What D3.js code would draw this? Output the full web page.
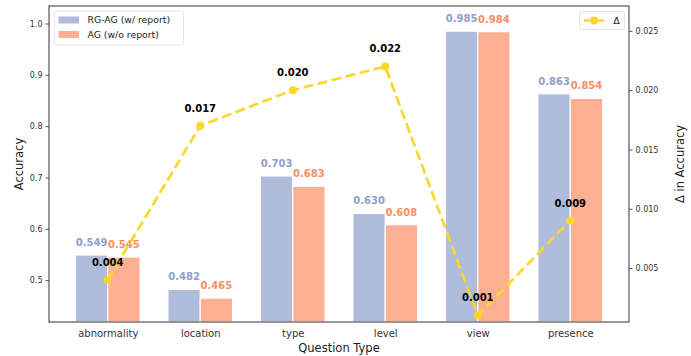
<!DOCTYPE html>
<html>
<head>
<meta charset="utf-8">
<script src="https://cdn.jsdelivr.net/npm/d3@7"></script>
<style>
  html, body { margin: 0; padding: 0; background: #fff; }
  svg { display: block; font-family: "DejaVu Sans", sans-serif; }
</style>
</head>
<body>
<svg id="chart" width="691" height="356"></svg>
<script>
// Accuracy per question type, with and without the generated report
const categories = ["abnormality", "location", "type", "level", "view", "presence"];
const rgAgValues = [0.549, 0.482, 0.703, 0.630, 0.985, 0.863];
const agValues   = [0.545, 0.465, 0.683, 0.608, 0.984, 0.854];
const deltaValues = [0.004, 0.017, 0.020, 0.022, 0.001, 0.009];
const leftTicks  = [0.5, 0.6, 0.7, 0.8, 0.9, 1.0];
const rightTicks = [0.005, 0.010, 0.015, 0.020, 0.025];

const blueFill = "#afbcdb", orangeFill = "#fdaf91";
const blueText = "#8da0cb", orangeText = "#fc8d62";
const gold = "#fcd62c";

const svg = d3.select("#chart");
const plot = { left: 49, right: 629, top: 6, bottom: 322 };
const barW = 0.35;

const x = d3.scaleLinear().domain([-0.635, 5.635]).range([plot.left, plot.right]);
const yL = d3.scaleLinear().domain([0.4185, 1.034]).range([plot.bottom, plot.top]);
const yR = d3.scaleLinear().domain([0.00045, 0.0271]).range([plot.bottom, plot.top]);

svg.append("defs").append("clipPath").attr("id", "plotClip")
  .append("rect").attr("x", plot.left).attr("y", plot.top)
  .attr("width", plot.right - plot.left).attr("height", plot.bottom - plot.top);

const marks = svg.append("g").attr("clip-path", "url(#plotClip)");

// grouped bars
const series = [
  { values: rgAgValues, offset: -barW / 2, fill: blueFill, text: blueText },
  { values: agValues,   offset:  barW / 2, fill: orangeFill, text: orangeText }
];
series.forEach(s => {
  marks.selectAll(null).data(s.values).enter().append("rect")
    .attr("x", (d, i) => x(i + s.offset - barW / 2))
    .attr("width", x(barW) - x(0))
    .attr("y", d => yL(d))
    .attr("height", d => yL(yL.domain()[0]) - yL(d))
    .attr("fill", s.fill)
    .attr("stroke", "#fff")
    .attr("stroke-width", 1.2);
});

// value labels above the bars
series.forEach(s => {
  svg.selectAll(null).data(s.values).enter().append("text")
    .attr("x", (d, i) => x(i + s.offset))
    .attr("y", d => yL(d) - 9)
    .attr("text-anchor", "middle")
    .attr("font-size", 10).attr("font-weight", "bold")
    .attr("fill", s.text)
    .text(d => d.toFixed(3));
});

// delta line on the secondary axis
const line = d3.line().x((d, i) => x(i)).y(d => yR(d));
svg.append("path").datum(deltaValues)
  .attr("d", line).attr("fill", "none")
  .attr("stroke", gold).attr("stroke-width", 2.7)
  .attr("stroke-dasharray", "10,4.5");
svg.selectAll(null).data(deltaValues).enter().append("circle")
  .attr("cx", (d, i) => x(i)).attr("cy", d => yR(d)).attr("r", 4)
  .attr("fill", gold);
svg.selectAll(null).data(deltaValues).enter().append("text")
  .attr("x", (d, i) => x(i)).attr("y", d => yR(d) - 14)
  .attr("text-anchor", "middle")
  .attr("font-size", 10).attr("font-weight", "bold").attr("fill", "#000")
  .text(d => d.toFixed(3));

// axes
const axisColor = "#555", tickText = "#333";
const leftAxis = svg.append("g").attr("transform", `translate(${plot.left},0)`)
  .call(d3.axisLeft(yL).tickValues(leftTicks).tickFormat(d3.format(".1f")).tickSize(3.5).tickPadding(3));
const rightAxis = svg.append("g").attr("transform", `translate(${plot.right},0)`)
  .call(d3.axisRight(yR).tickValues(rightTicks).tickFormat(d3.format(".3f")).tickSize(3.5).tickPadding(3));
const bottomAxis = svg.append("g").attr("transform", `translate(0,${plot.bottom})`)
  .call(d3.axisBottom(x).tickValues(d3.range(categories.length)).tickFormat(i => categories[i]).tickSize(0).tickPadding(8));

[leftAxis, rightAxis, bottomAxis].forEach(a => {
  a.select(".domain").remove();
  a.selectAll(".tick line").attr("stroke", axisColor).attr("stroke-width", 1);
  a.selectAll(".tick text").attr("fill", tickText).attr("font-family", "DejaVu Sans");
});
leftAxis.selectAll(".tick text").attr("font-size", 8);
rightAxis.selectAll(".tick text").attr("font-size", 8);
bottomAxis.selectAll(".tick text").attr("font-size", 10);

// frame
svg.append("rect").attr("x", plot.left).attr("y", plot.top)
  .attr("width", plot.right - plot.left).attr("height", plot.bottom - plot.top)
  .attr("fill", "none").attr("stroke", axisColor).attr("stroke-width", 1.2);

// axis titles
svg.append("text").attr("transform", `translate(23,${(plot.top + plot.bottom) / 2}) rotate(-90)`)
  .attr("text-anchor", "middle").attr("font-size", 11.5).attr("fill", "#222").text("Accuracy");
svg.append("text").attr("transform", `translate(684,${(plot.top + plot.bottom) / 2}) rotate(-90)`)
  .attr("text-anchor", "middle").attr("font-size", 11.5).attr("fill", "#222").text("Δ in Accuracy");
svg.append("text").attr("x", (plot.left + plot.right) / 2).attr("y", 352)
  .attr("text-anchor", "middle").attr("font-size", 11.5).attr("fill", "#222").text("Question Type");

// bar legend
const legL = svg.append("g");
legL.append("rect").attr("x", 54.5).attr("y", 11).attr("width", 129).attr("height", 34)
  .attr("rx", 2.5).attr("fill", "#fff").attr("fill-opacity", 0.8)
  .attr("stroke", "#ddd").attr("stroke-width", 0.8);
const legItems = [
  { label: "RG-AG (w/ report)", fill: blueFill },
  { label: "AG (w/o report)", fill: orangeFill }
];
legItems.forEach((d, i) => {
  const cy = 20 + i * 14.5;
  legL.append("rect").attr("x", 58.5).attr("y", cy - 3.5).attr("width", 20.5).attr("height", 7).attr("fill", d.fill);
  legL.append("text").attr("x", 87.5).attr("y", cy + 3.3).attr("font-size", 9.3).attr("fill", "#222").text(d.label);
});

// delta legend
const legR = svg.append("g");
legR.append("rect").attr("x", 579.5).attr("y", 11.5).attr("width", 45).attr("height", 18)
  .attr("rx", 2.5).attr("fill", "#fff").attr("fill-opacity", 0.8)
  .attr("stroke", "#ddd").attr("stroke-width", 0.8);
legR.append("line").attr("x1", 584).attr("x2", 604.5).attr("y1", 20.5).attr("y2", 20.5)
  .attr("stroke", gold).attr("stroke-width", 2.7).attr("stroke-dasharray", "7,3.5,10");
legR.append("circle").attr("cx", 594).attr("cy", 20.5).attr("r", 4).attr("fill", gold);
legR.append("text").attr("x", 616.5).attr("y", 24).attr("text-anchor", "middle")
  .attr("font-size", 9.5).attr("fill", "#222").text("Δ");
</script>
</body>
</html>
